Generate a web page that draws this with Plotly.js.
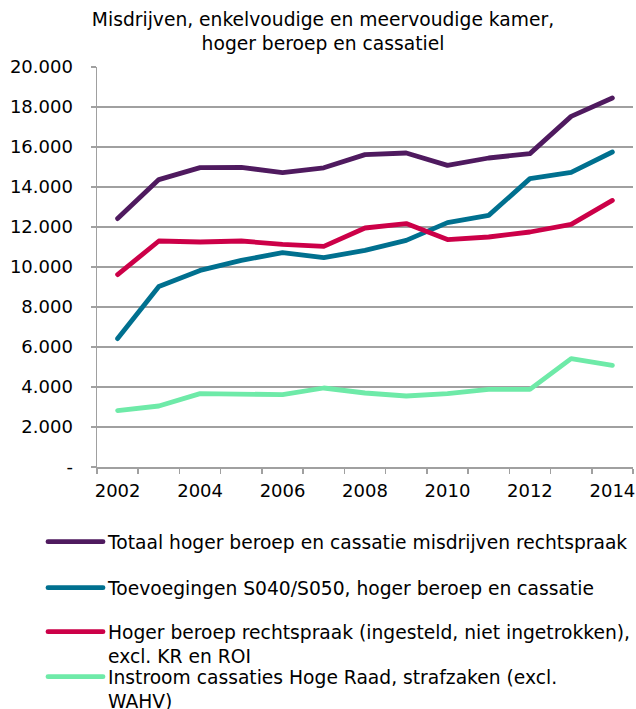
<!DOCTYPE html>
<html>
<head>
<meta charset="utf-8">
<script src="https://cdn.plot.ly/plotly-3.0.1.min.js"></script>
<style>
  html, body { margin: 0; padding: 0; background: #fff; }
  #chart { width: 636px; height: 709px; }
  .scatterlayer path.js-line, .legendlines path { stroke-linecap: round; stroke-linejoin: round; }
</style>
</head>
<body>
<div id="chart"></div>
<script>
// ---- data ----
const years = ['2002','2003','2004','2005','2006','2007','2008','2009','2010','2011','2012','2013','2014'];
const yearLabels = ['2002','','2004','','2006','','2008','','2010','','2012','','2014'];

const totaal = [12420, 14370, 14970, 14980, 14720, 14960, 15620, 15700, 15080, 15450, 15670, 17530, 18450];
const toevoegingen = [6420, 9030, 9830, 10330, 10720, 10470, 10830, 11330, 12220, 12580, 14420, 14730, 15750];
const hogerBeroep = [9620, 11300, 11250, 11300, 11130, 11030, 11950, 12170, 11370, 11500, 11750, 12130, 13330];
const instroom = [2820, 3050, 3670, 3670, 3620, 3950, 3700, 3550, 3670, 3880, 3880, 5420, 5080];

const yTickVals = [0, 2000, 4000, 6000, 8000, 10000, 12000, 14000, 16000, 18000, 20000];
const yTickText = ['-', '2.000', '4.000', '6.000', '8.000', '10.000', '12.000', '14.000', '16.000', '18.000', '20.000'];

const seriesNames = [
  'Totaal hoger beroep en cassatie misdrijven rechtspraak',
  'Toevoegingen S040/S050, hoger beroep en cassatie',
  'Hoger beroep rechtspraak (ingesteld, niet ingetrokken),<br>excl. KR en ROI',
  'Instroom cassaties Hoge Raad, strafzaken (excl.<br>WAHV)'
];
const seriesColors = ['#4f1a5f', '#00708f', '#cc0048', '#6eeaa8'];

// ---- chart ----
const FONT = 'DejaVu Sans, Verdana, sans-serif';
const W = 636, H = 709;
const allSeries = [totaal, toevoegingen, hogerBeroep, instroom];
const legendIds = ['legend', 'legend2', 'legend3', 'legend4'];
const legendTops = [523, 569, 613, 658];

const traces = allSeries.map((vals, i) => ({
  type: 'scatter',
  mode: 'lines',
  x: years,
  y: vals,
  name: seriesNames[i],
  legend: legendIds[i],
  line: { color: seriesColors[i], width: 4.8 },
  hoverinfo: 'skip'
}));

const layout = {
  width: W,
  height: H,
  margin: { l: 97, r: 3, t: 67, b: 242, autoexpand: false },
  paper_bgcolor: '#ffffff',
  plot_bgcolor: '#ffffff',
  font: { family: FONT, size: 18, color: '#000000' },
  title: {
    text: 'Misdrijven, enkelvoudige en meervoudige kamer,<br>hoger beroep en cassatiel',
    font: { family: FONT, size: 18.7, color: '#000000' },
    x: 323 / W, xanchor: 'center', xref: 'container',
    y: 1 - 26 / H, yanchor: 'top', yref: 'container'
  },
  xaxis: {
    type: 'category',
    categoryorder: 'array',
    categoryarray: years,
    range: [-0.5, years.length - 0.5],
    tickmode: 'array',
    tickvals: years,
    ticktext: yearLabels,
    tickson: 'boundaries',
    ticks: 'outside',
    ticklen: 5,
    tickwidth: 1.5,
    tickcolor: '#a0a0a0',
    ticklabelstandoff: 7,
    showline: true,
    linecolor: '#a0a0a0',
    linewidth: 1.5,
    showgrid: false,
    zeroline: false,
    tickangle: 0,
    tickfont: { family: FONT, size: 18, color: '#000000' },
    fixedrange: true
  },
  yaxis: {
    range: [0, 20000],
    tickmode: 'array',
    tickvals: yTickVals,
    ticktext: yTickText,
    ticks: 'outside',
    ticklen: 5,
    tickwidth: 1.5,
    tickcolor: '#a0a0a0',
    ticklabelstandoff: 14,
    showline: true,
    linecolor: '#a0a0a0',
    linewidth: 1.5,
    showgrid: true,
    gridcolor: '#a0a0a0',
    gridwidth: 1.5,
    zeroline: false,
    tickfont: { family: FONT, size: 18, color: '#000000' },
    fixedrange: true
  },
  showlegend: true,
  hovermode: false
};

legendIds.forEach((id, i) => {
  layout[id] = {
    xref: 'container', yref: 'container',
    x: 43 / W, xanchor: 'left',
    y: 1 - legendTops[i] / H, yanchor: 'top',
    bgcolor: 'rgba(0,0,0,0)',
    borderwidth: 0,
    itemwidth: 55,
    valign: 'top',
    font: { family: FONT, size: 18.7, color: '#000000' },
    itemclick: false,
    itemdoubleclick: false
  };
});

Plotly.newPlot('chart', traces, layout, { displayModeBar: false, staticPlot: true });
</script>
</body>
</html>
